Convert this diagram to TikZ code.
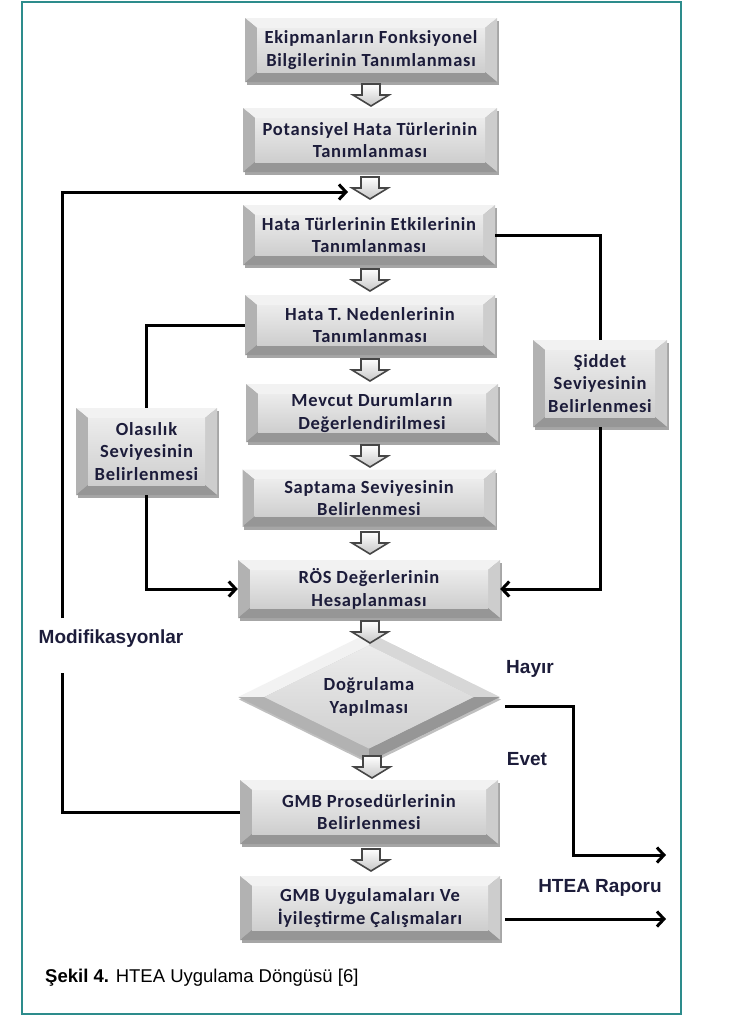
\documentclass[tikz,border=0pt]{standalone}
\usepackage{fontspec}
\setmainfont{Liberation Sans}
\newfontfamily\boxfont[LetterSpace=4]{Carlito}
\usetikzlibrary{calc,shapes.geometric,shadows,arrows.meta}
\definecolor{framecol}{RGB}{45,140,140}
\definecolor{txt}{RGB}{28,28,58}
\definecolor{bvtop}{RGB}{242,242,242}
\definecolor{bvtopr}{RGB}{215,215,215}
\definecolor{bvleft}{RGB}{178,178,178}
\definecolor{bvright}{RGB}{205,205,205}
\definecolor{bvbot}{RGB}{150,150,150}
\definecolor{facetop}{RGB}{236,236,236}
\definecolor{facebot}{RGB}{206,206,206}
\definecolor{arrowgray}{RGB}{70,70,70}
\tikzset{
  stepbox/.style={rectangle, inner sep=0pt, align=center, text=txt,
    font=\boxfont\bfseries\fontsize{18.5}{22.5}\selectfont,
    drop shadow={shadow xshift=1.5pt, shadow yshift=-3pt, opacity=0.35, fill=black},
    path picture={
      \path (path picture bounding box.south west) coordinate (q1)
            (path picture bounding box.north east) coordinate (q3);
      \path (q1 |- q3) coordinate (q2) (q3 |- q1) coordinate (q4);
      \path ($(q1)+(12pt,10pt)$) coordinate (i1) ($(q3)+(-12pt,-10pt)$) coordinate (i3);
      \path (i1 |- i3) coordinate (i2) (i3 |- i1) coordinate (i4);
      \fill[bvtop] (q2) -- (q3) -- (i3) -- (i2) -- cycle;
      \fill[bvleft] (q1) -- (q2) -- (i2) -- (i1) -- cycle;
      \fill[bvright] (q3) -- (q4) -- (i4) -- (i3) -- cycle;
      \fill[bvbot] (q4) -- (q1) -- (i1) -- (i4) -- cycle;
      \shade[top color=facetop, bottom color=facebot] (i1) rectangle (i3);
    }},
  decbox/.style={diamond, inner sep=0pt, align=center, text=txt,
    minimum width=262pt, minimum height=100pt,
    font=\boxfont\bfseries\fontsize{18.5}{22.5}\selectfont,
    drop shadow={shadow xshift=1pt, shadow yshift=-2.5pt, opacity=0.25, fill=black},
    path picture={
      \path (path picture bounding box.center) coordinate (dc)
            (path picture bounding box.north) coordinate (dn)
            (path picture bounding box.south) coordinate (ds)
            (path picture bounding box.east) coordinate (de)
            (path picture bounding box.west) coordinate (dw);
      \path ($(dc)!0.8!(dn)$) coordinate (jn) ($(dc)!0.8!(ds)$) coordinate (js)
            ($(dc)!0.8!(de)$) coordinate (je) ($(dc)!0.8!(dw)$) coordinate (jw);
      \fill[bvtop] (dw) -- (dn) -- (jn) -- (jw) -- cycle;
      \fill[bvtopr] (dn) -- (de) -- (je) -- (jn) -- cycle;
      \fill[bvleft] (dw) -- (ds) -- (js) -- (jw) -- cycle;
      \fill[bvbot] (ds) -- (de) -- (je) -- (js) -- cycle;
      \shade[top color=facetop, bottom color=facebot] (jn) -- (je) -- (js) -- (jw) -- cycle;
    }},
  conn/.style={line width=3pt, black},
  tip/.style={-{Straight Barb[length=7pt,width=15pt]}},
  lbl/.style={text=txt, font=\bfseries\fontsize{19}{22}\selectfont, inner sep=0pt},
  hollow/.pic={\draw[line width=1.6pt, draw=arrowgray, top color=white, bottom color=black!22, line join=miter]
      (-9,-11) -- (9,-11) -- (9,0) -- (18,0) -- (0,11) -- (-18,0) -- (-9,0) -- cycle;}
}
\begin{document}
\begin{tikzpicture}[x=1pt,y=-1pt]
\useasboundingbox (0,0) rectangle (742,1015);
\draw[framecol, line width=2pt] (22,2) rectangle (681,1014);

% main column
\node[stepbox, minimum width=252pt, minimum height=64pt] (b1) at (371,50) {Ekipmanların Fonksiyonel\\Bilgilerinin Tanımlanması};
\node[stepbox, minimum width=254pt, minimum height=64pt] (b2) at (370,140) {Potansiyel Hata Türlerinin\\Tanımlanması};
\node[stepbox, minimum width=252pt, minimum height=60pt] (b3) at (369,235) {Hata Türlerinin Etkilerinin\\Tanımlanması};
\node[stepbox, minimum width=250pt, minimum height=60pt] (b4) at (370,325) {Hata T. Nedenlerinin\\Tanımlanması};
\node[stepbox, minimum width=252pt, minimum height=58pt] (b5) at (372,413) {Mevcut Durumların\\Değerlendirilmesi};
\node[stepbox, minimum width=253pt, minimum height=57pt] (b6) at (369,498) {Saptama Seviyesinin\\Belirlenmesi};
\node[stepbox, minimum width=262pt, minimum height=58pt] (b7) at (369,589) {RÖS Değerlerinin\\Hesaplanması};
\node[decbox] (d1) at (369,697) {Doğrulama\\Yapılması};
\node[stepbox, minimum width=258pt, minimum height=64pt] (b8) at (369,812) {GMB Prosedürlerinin\\Belirlenmesi};
\node[stepbox, minimum width=260pt, minimum height=64pt] (b9) at (370,908) {GMB Uygulamaları Ve\\İyileştirme Çalışmaları};

% side boxes
\node[stepbox, minimum width=141pt, minimum height=87pt] (olas) at (146.5,451.5) {Olasılık\\Seviyesinin\\Belirlenmesi};
\node[stepbox, minimum width=134pt, minimum height=87pt] (sid) at (600,383.5) {Şiddet\\Seviyesinin\\Belirlenmesi};

% hollow arrows
\pic at (371,95) {hollow};
\pic at (370,188) {hollow};
\pic at (370,280) {hollow};
\pic at (370,370) {hollow};
\pic at (370,456) {hollow};
\pic at (370,543) {hollow};
\pic at (370,632) {hollow};
\pic at (372,767) {hollow};
\pic at (371,860) {hollow};

% labels
\node[lbl] (modl) at (111,639) {Modifikasyonlar};
\node[lbl] (hay) at (530,669) {Hayır};
\node[lbl] (evet) at (527,759) {Evet};
\node[lbl] (rapor) at (600,888) {HTEA Raporu};
\node[anchor=west, inner sep=0pt, font=\fontsize{18.5}{21}\selectfont] (cap) at (45,978) {\textbf{Şekil 4.} HTEA Uygulama Döngüsü [6]};

% coordinates for free ends
\coordinate (m1) at (62,673);
\coordinate (m2) at (62,618);
\coordinate (fb) at (348,192);
\coordinate (h1) at (505,706);
\coordinate (h2) at (666,855);
\coordinate (r1) at (505,919);
\coordinate (r2) at (666,919);

% connectors
\draw[conn] (b4.west) -| (olas.north);
\draw[conn, tip] (olas.south) |- (b7.west);
\draw[conn] (b3.east) -| (sid.north);
\draw[conn, tip] (sid.south) |- (b7.east);
\draw[conn] (b8.west) -| (m1);
\draw[conn, tip] (m2) |- (fb);
\draw[conn, tip] (h1) -- ++(68,0) |- (h2);
\draw[conn, tip] (r1) -- (r2);
\end{tikzpicture}
\end{document}
